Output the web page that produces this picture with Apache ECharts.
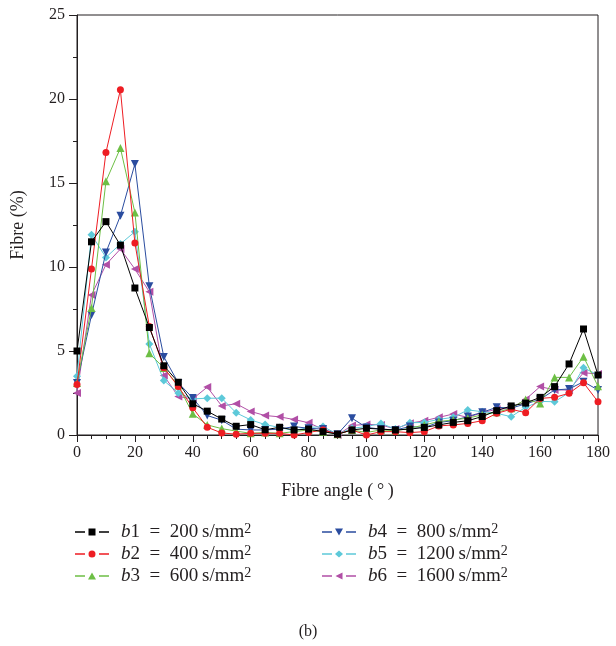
<!DOCTYPE html>
<html>
<head>
<meta charset="utf-8">
<script src="https://cdn.jsdelivr.net/npm/echarts@6/dist/echarts.min.js"></script>
<style>
html,body{margin:0;padding:0;background:#fff;}
#chart{width:616px;height:646px;}
</style>
</head>
<body>
<div id="chart"></div>
<script>
var angles = [0,5,10,15,20,25,30,35,40,45,50,55,60,65,70,75,80,85,90,95,100,105,110,115,120,125,130,135,140,145,150,155,160,165,170,175,180];
var b1 = [5.0,11.5,12.7,11.3,8.75,6.4,4.12,3.14,1.86,1.42,0.95,0.52,0.62,0.31,0.46,0.3,0.35,0.2,0.05,0.3,0.4,0.35,0.3,0.35,0.45,0.6,0.75,0.85,1.1,1.45,1.73,1.9,2.24,2.88,4.23,6.31,3.57];
var b2 = [3.0,9.88,16.82,20.55,11.43,6.46,4.0,2.88,1.62,0.46,0.12,0.05,0.1,0.1,0.1,0.0,0.15,0.3,0.05,0.3,0.0,0.2,0.2,0.14,0.2,0.54,0.6,0.69,0.85,1.29,1.53,1.33,2.18,2.24,2.48,3.11,1.98];
var b3 = [3.1,7.56,15.1,17.08,13.25,4.86,3.99,2.94,1.26,0.6,0.38,0.23,0.1,0.15,0.1,0.2,0.3,0.2,0.05,0.3,0.15,0.3,0.25,0.4,0.6,0.8,0.9,1.0,1.2,1.35,1.59,2.12,1.88,3.43,3.43,4.66,2.9];
var b4 = [3.1,7.14,10.87,13.05,16.13,8.85,4.65,3.1,2.2,1.16,0.88,0.35,0.3,0.3,0.35,0.5,0.4,0.35,0.05,1.0,0.45,0.35,0.3,0.5,0.45,0.75,0.85,1.1,1.35,1.65,1.6,1.85,2.12,2.68,2.74,3.17,2.68];
var b5 = [3.5,11.92,10.57,11.37,12.1,5.42,3.24,2.5,2.15,2.19,2.19,1.32,0.9,0.62,0.45,0.26,0.45,0.5,0.05,0.4,0.5,0.69,0.35,0.73,0.75,0.93,1.05,1.49,1.39,1.29,1.09,1.65,2.0,1.98,2.52,4.0,3.57];
var b6 = [2.5,8.33,10.14,11.07,9.88,8.52,3.54,2.29,2.15,2.85,1.73,1.86,1.4,1.16,1.08,0.92,0.73,0.34,0.0,0.57,0.63,0.6,0.36,0.7,0.85,1.05,1.25,1.05,1.33,1.53,1.59,2.12,2.88,2.68,2.68,3.71,3.63];
var seriesNames = ['b1','b2','b3','b4','b5','b6'];
var bValues = ['200','400','600','800','1200','1600'];
var xTicks = [0,20,40,60,80,100,120,140,160,180];
var yTicks = [0,5,10,15,20,25];

var colors = ['#000000','#ee1d23','#6dbf45','#2a4c9f','#5dc9d9','#b14fa6'];
var symbols = ['rect','circle','triangle','triangle','diamond','triangle'];
var rotates = [0,0,0,180,0,90];
var sizes = [7,7,8,8,8,8];
var datasets = [b1,b2,b3,b4,b5,b6];
var SERIF = '"Liberation Serif","DejaVu Serif",serif';

var dashes = 'M0,2.75h10v1.5h-10z M24,2.75h10v1.5h-10z ';
var legendMarks = [
  'M13.5,0h7v7h-7z',
  'M13.5,3.5a3.5,3.5 0 1,0 7,0a3.5,3.5 0 1,0 -7,0z',
  'M17,0L21,7L13,7z',
  'M13,0L21,0L17,7z',
  'M17,0L21,3.5L17,7L13,3.5z',
  'M13.5,3.5L20.5,0L20.5,7z'
];

var series = datasets.map(function(d,i){
  return {
    name: seriesNames[i],
    type: 'line',
    data: angles.map(function(a,j){return [a,d[j]];}),
    symbol: symbols[i],
    symbolRotate: rotates[i],
    symbolSize: sizes[i],
    showAllSymbol: true,
    lineStyle: {color: colors[i], width: 1},
    itemStyle: {color: colors[i]},
    z: 10 - i,
    animation: false
  };
});

var rich = {
  i: {fontFamily: SERIF, fontStyle: 'italic', fontSize: 19, color: '#231f20', lineHeight: 20},
  n: {fontFamily: SERIF, fontSize: 19, color: '#231f20', lineHeight: 20},
  s: {fontFamily: SERIF, fontSize: 14, color: '#231f20', lineHeight: 12, verticalAlign: 'top'}
};
function fmt(name){
  var k = seriesNames.indexOf(name);
  return '{i|b}{n|' + (k+1) + '\u2002=\u2002' + bValues[k] + '\u2009s/mm}{s|2}';
}
function legend(left, idx){
  return {
    orient: 'vertical', left: left, top: 522,
    padding: 0,
    itemWidth: 34, itemHeight: 7, itemGap: 2.5,
    data: idx.map(function(k){return {name: seriesNames[k], icon: 'path://' + dashes + legendMarks[k]};}),
    formatter: fmt,
    textStyle: {rich: rich, padding: [0,0,0,7]},
    selectedMode: false
  };
}

var chart = echarts.init(document.getElementById('chart'), null, {renderer: 'canvas'});
chart.setOption({
  backgroundColor: '#ffffff',
  animation: false,
  color: colors,
  grid: {left: 77, right: 18, top: 15, bottom: 211, show: true, borderColor: '#231f20', borderWidth: 1, backgroundColor: 'transparent'},
  xAxis: {
    type: 'value', min: 0, max: 180, interval: 20,
    name: 'Fibre angle (\u2009\u00b0\u2009)', nameLocation: 'middle', nameGap: 47,
    nameTextStyle: {fontFamily: SERIF, fontSize: 18, color: '#231f20'},
    axisLine: {lineStyle: {color: '#231f20', width: 1}},
    axisTick: {show: true, length: 7, lineStyle: {color: '#231f20'}},
    minorTick: {show: true, splitNumber: 4, length: 4, lineStyle: {color: '#231f20'}},
    axisLabel: {fontFamily: SERIF, fontSize: 16, color: '#231f20', margin: 10,
      formatter: function(v){return xTicks.indexOf(v) >= 0 ? String(v) : '';}},
    splitLine: {show: false}
  },
  yAxis: {
    type: 'value', min: 0, max: 25, interval: 5,
    name: 'Fibre (%)', nameLocation: 'middle', nameGap: 50, nameRotate: 90,
    nameTextStyle: {fontFamily: SERIF, fontSize: 18, color: '#231f20'},
    axisLine: {show: true, lineStyle: {color: '#231f20', width: 1}},
    axisTick: {show: true, length: 8, lineStyle: {color: '#231f20'}},
    minorTick: {show: true, splitNumber: 2, length: 4, lineStyle: {color: '#231f20'}},
    axisLabel: {fontFamily: SERIF, fontSize: 16, color: '#231f20', margin: 12,
      formatter: function(v){return yTicks.indexOf(v) >= 0 ? String(v) : '';}},
    splitLine: {show: false}
  },
  legend: [legend(75, [0,1,2]), legend(322, [3,4,5])],
  graphic: [{
    type: 'text', left: 'center', top: 624,
    style: {text: '(b)', font: '16px ' + SERIF, fill: '#231f20'}
  }],
  series: series
});
</script>
</body>
</html>
